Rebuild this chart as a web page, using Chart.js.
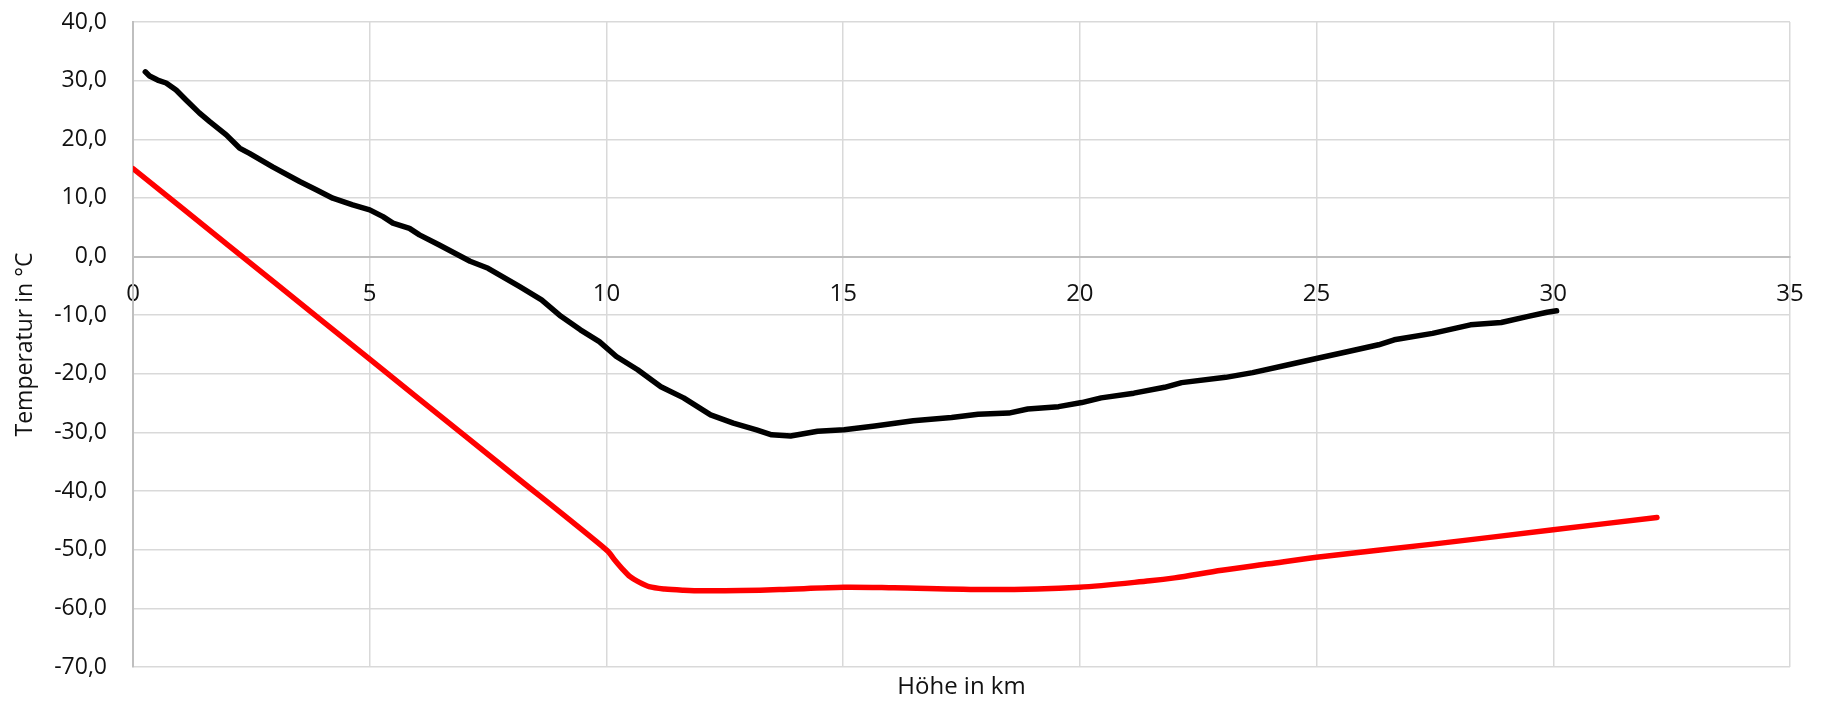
<!DOCTYPE html>
<html>
<head>
<meta charset="utf-8">
<script src="https://cdn.jsdelivr.net/npm/chart.js@4.4.1/dist/chart.umd.min.js"></script>
<style>
  html, body { margin: 0; padding: 0; background: #ffffff; }
  #wrap { width: 1822px; height: 702px; }
</style>
</head>
<body>
<div id="wrap"><canvas id="c" width="1822" height="702"></canvas></div>
<script>
// Gemessenes Profil (Radiosonde): Höhe in km, Temperatur in °C
const hoeheGemessen = [0.26, 0.35, 0.52, 0.70, 0.91, 1.12, 1.40, 1.62, 1.97, 2.25, 2.46, 2.95, 3.52, 3.87, 4.22, 4.64, 5.00, 5.28, 5.49, 5.84, 6.05, 6.46, 7.12, 7.50, 8.16, 8.63, 9.04, 9.45, 9.85, 10.21, 10.66, 11.15, 11.63, 12.20, 12.68, 13.17, 13.49, 13.89, 14.46, 15.02, 15.67, 16.48, 17.29, 17.85, 18.50, 18.90, 19.55, 20.04, 20.45, 21.14, 21.79, 22.15, 23.08, 23.65, 24.38, 25.02, 25.67, 26.31, 26.64, 27.45, 28.25, 28.90, 29.47, 29.87, 30.07];
const tempGemessen  = [31.5, 30.8, 30.1, 29.6, 28.4, 26.7, 24.5, 23.0, 20.75, 18.5, 17.6, 15.3, 12.8, 11.4, 9.95, 8.8, 7.96, 6.8, 5.7, 4.8, 3.7, 2.0, -0.8, -2.0, -5.1, -7.4, -10.2, -12.5, -14.5, -17.05, -19.3, -22.2, -24.1, -27.0, -28.4, -29.55, -30.4, -30.6, -29.8, -29.55, -28.9, -28.0, -27.45, -26.9, -26.7, -26.0, -25.6, -24.9, -24.1, -23.3, -22.3, -21.5, -20.6, -19.8, -18.5, -17.35, -16.2, -15.05, -14.2, -13.1, -11.65, -11.25, -10.2, -9.5, -9.26];

// Standardatmosphäre: Höhe in km, Temperatur in °C
const hoeheStandard = [0, 2, 4, 6, 8, 10.01, 10.17, 10.34, 10.50, 10.66, 10.90, 11.23, 11.63, 12.03, 12.84, 13.65, 15.02, 16.07, 18.10, 19.99, 21.48, 22.0, 23.0, 24.0, 25.0, 27.5, 30.0, 32.19];
const tempStandard  = [15.0, 2.0, -11.0, -24.0, -37.0, -50.1, -51.7, -53.3, -54.6, -55.4, -56.3, -56.7, -56.9, -57.0, -56.96, -56.8, -56.4, -56.5, -56.8, -56.4, -55.3, -54.8, -53.5, -52.4, -51.3, -49.0, -46.6, -44.5];

// Achsenbeschriftungen
const xTickWerte = [0, 5, 10, 15, 20, 25, 30, 35];
const yTickWerte = [40, 30, 20, 10, 0, -10, -20, -30, -40, -50, -60, -70];
const yTickLabels = ['40,0', '30,0', '20,0', '10,0', '0,0', '-10,0', '-20,0', '-30,0', '-40,0', '-50,0', '-60,0', '-70,0'];

const toPoints = (xs, ys) => xs.map((x, i) => ({ x: x, y: ys[i] }));

const FONT = "'Open Sans', 'Liberation Sans', sans-serif";
const GRID = '#d9d9d9';
const AXIS = '#bfbfbf';

new Chart(document.getElementById('c'), {
  type: 'line',
  data: {
    datasets: [
      {
        label: 'Gemessen',
        data: toPoints(hoeheGemessen, tempGemessen),
        borderColor: '#000000',
        borderWidth: 5.5,
        borderCapStyle: 'round',
        borderJoinStyle: 'round',
        pointRadius: 0,
        tension: 0,
        xAxisID: 'x',
        yAxisID: 'y'
      },
      {
        label: 'Standardatmosphäre',
        data: toPoints(hoeheStandard, tempStandard),
        borderColor: '#ff0000',
        borderWidth: 5.5,
        borderCapStyle: 'round',
        borderJoinStyle: 'round',
        pointRadius: 0,
        tension: 0.3,
        xAxisID: 'x',
        yAxisID: 'y'
      }
    ]
  },
  options: {
    responsive: false,
    animation: false,
    devicePixelRatio: 1,
    layout: { padding: { top: 22, right: 32, bottom: 0, left: 0 } },
    plugins: {
      legend: { display: false },
      tooltip: { enabled: false }
    },
    scales: {
      x: {
        type: 'linear',
        position: { y: 0 },
        min: 0,
        max: 35,
        afterBuildTicks: (s) => { s.ticks = xTickWerte.map(v => ({ value: v })); },
        ticks: {
          color: '#111111',
          font: { family: FONT, size: 24 },
          padding: 23,
          maxRotation: 0,
          callback: (v) => String(v)
        },
        grid: { color: GRID, lineWidth: 1.5, drawTicks: false },
        border: { display: true, color: AXIS, width: 2 },
        afterFit: (s) => { s.paddingLeft = 0; s.paddingRight = 14; }
      },
      x2: {
        type: 'linear',
        position: 'bottom',
        min: 0,
        max: 35,
        ticks: { display: false },
        grid: { display: false, drawTicks: false },
        border: { display: false },
        title: {
          display: true,
          text: 'Höhe in km',
          color: '#111111',
          font: { family: FONT, size: 24 },
          padding: { top: 0, bottom: 0 }
        },
        afterFit: (s) => { s.height = 35; s.paddingLeft = 0; s.paddingRight = 0; }
      },
      y: {
        type: 'linear',
        position: 'left',
        min: -70,
        max: 40,
        afterBuildTicks: (s) => { s.ticks = yTickWerte.map(v => ({ value: v })); },
        ticks: {
          color: '#111111',
          font: { family: FONT, size: 23 },
          padding: 26,
          callback: (v) => yTickLabels[yTickWerte.indexOf(v)]
        },
        grid: {
          color: (ctx) => (ctx.tick && ctx.tick.value === 0 ? AXIS : GRID),
          lineWidth: (ctx) => (ctx.tick && ctx.tick.value === 0 ? 2 : 1.5),
          drawTicks: false
        },
        border: { display: true, color: AXIS, width: 2 },
        title: {
          display: true,
          text: 'Temperatur in °C',
          color: '#111111',
          font: { family: FONT, size: 23 },
          padding: { top: 12, bottom: 0 }
        },
        afterFit: (s) => { s.width = 133; s.paddingTop = 14; s.paddingBottom = 14; }
      }
    }
  }
});
</script>
</body>
</html>
